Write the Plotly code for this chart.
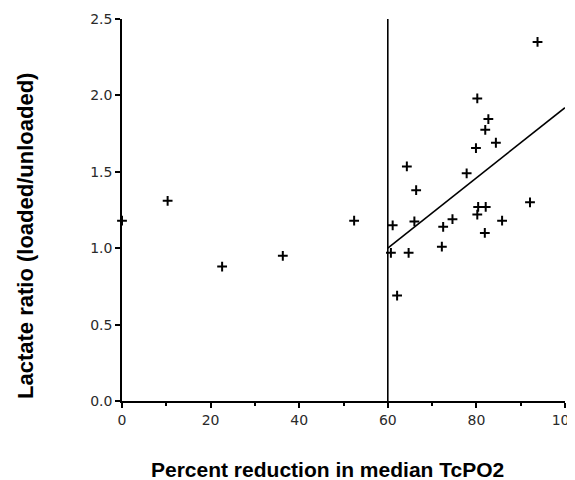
import plotly.graph_objects as go

# Data
pct_reduction = [0, 10.3, 22.6, 36.3, 52.4,
                 93.8, 80.2, 82.7, 82.0, 84.4, 79.9, 64.3, 77.8, 66.4, 92.1,
                 80.4, 82.1, 80.2, 74.6, 85.8, 66.0, 61.1, 72.5, 81.9, 72.2,
                 60.7, 64.7, 62.1]
lactate_ratio = [1.18, 1.31, 0.88, 0.95, 1.18,
                 2.35, 1.98, 1.845, 1.775, 1.69, 1.655, 1.535, 1.49, 1.38, 1.30,
                 1.27, 1.27, 1.22, 1.19, 1.18, 1.175, 1.15, 1.14, 1.10, 1.01,
                 0.97, 0.97, 0.69]
fit_x = [60, 100]
fit_y = [1.0, 1.92]
threshold_x = [60, 60]
threshold_y = [0, 2.5]
x_ticks = [0, 20, 40, 60, 80, 100]
y_ticks = [0.0, 0.5, 1.0, 1.5, 2.0, 2.5]
y_tick_labels = ["0.0", "0.5", "1.0", "1.5", "2.0", "2.5"]
x_title = "Percent reduction in median TcPO2"
y_title = "Lactate ratio (loaded/unloaded)"

fig = go.Figure()
fig.add_trace(go.Scatter(x=threshold_x, y=threshold_y, mode="lines",
                         line=dict(color="black", width=1.6), showlegend=False,
                         hoverinfo="skip"))
fig.add_trace(go.Scatter(x=fit_x, y=fit_y, mode="lines",
                         line=dict(color="black", width=1.6), showlegend=False))
fig.add_trace(go.Scatter(x=pct_reduction, y=lactate_ratio, mode="markers",
                         marker=dict(symbol="cross-thin", size=7, color="black",
                                     line=dict(color="black", width=2)),
                         cliponaxis=False, showlegend=False))

axis_font = dict(family="DejaVu Sans", size=14, color="#2a2a2a")

fig.update_layout(
    width=567, height=472,
    margin=dict(l=114, r=10, t=11, b=79, autoexpand=False),
    paper_bgcolor="white", plot_bgcolor="white",
    xaxis=dict(range=[0, 100], tickvals=x_ticks, ticks="outside", ticklen=5,
               tickwidth=1.5, tickcolor="black", showline=True, linecolor="black",
               linewidth=1.5, showgrid=False, zeroline=False, tickfont=axis_font,
               ticklabeloverflow="allow", automargin=False,
               minor=dict(dtick=10, ticks="outside", ticklen=3, tickwidth=1.5,
                          tickcolor="black", showgrid=False)),
    yaxis=dict(range=[0, 2.5], tickvals=y_ticks, ticktext=y_tick_labels,
               ticks="outside", ticklen=5, tickwidth=1.5, tickcolor="black",
               showline=True, linecolor="black", linewidth=1.5, showgrid=False,
               zeroline=False, tickfont=axis_font, automargin=False),
    annotations=[
        dict(text="<b>" + x_title + "</b>", xref="paper", yref="paper",
             x=0.464, y=0, yshift=-68, xanchor="center", yanchor="middle",
             showarrow=False,
             font=dict(family="Liberation Sans", size=21, color="black")),
        dict(text="<b>" + y_title + "</b>", xref="paper", yref="paper",
             x=0, y=0.432, xshift=-96, xanchor="center", yanchor="middle",
             textangle=-90, showarrow=False,
             font=dict(family="Liberation Sans", size=22, color="black")),
    ],
)

fig.write_html("out.html")
